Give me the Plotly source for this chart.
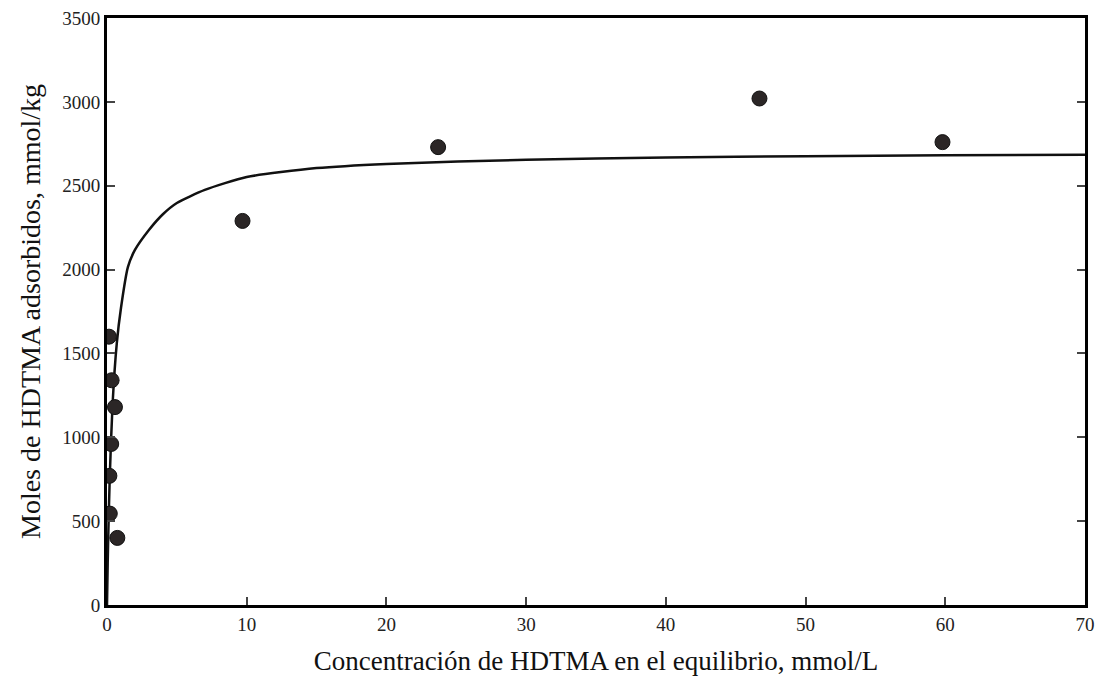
import plotly.graph_objects as go

# Measured adsorption points: equilibrium concentration (mmol/L) vs adsorbed amount (mmol/kg)
conc_points = [0.14, 0.33, 0.57, 0.30, 0.17, 0.20, 0.74, 9.7, 23.7, 46.7, 59.8]
ads_points = [1600, 1340, 1180, 960, 770, 545, 400, 2290, 2730, 3020, 2760]

# Isotherm curve read along its path
conc_curve = [0, 0.05, 0.1, 0.2, 0.4, 0.7, 1, 1.5, 2, 3, 4, 5, 7, 10, 15, 20, 30, 40, 50, 60, 70]
ads_curve = [0, 250, 450, 770, 1200, 1560, 1771, 2016, 2117, 2236, 2330, 2397, 2475,
             2552, 2605, 2630, 2655, 2668, 2676, 2681, 2685]

x_ticks = [0, 10, 20, 30, 40, 50, 60, 70]
y_ticks = [0, 500, 1000, 1500, 2000, 2500, 3000, 3500]

serif = "Liberation Serif, Times New Roman, serif"

fig = go.Figure()
fig.add_trace(go.Scatter(
    x=conc_curve, y=ads_curve, mode="lines",
    line=dict(color="#111111", width=2.5, shape="spline", smoothing=0.6),
    showlegend=False, hoverinfo="skip",
))
fig.add_trace(go.Scatter(
    x=conc_points, y=ads_points, mode="markers",
    marker=dict(color="#2b2626", size=15, line=dict(color="#111111", width=1)),
    showlegend=False,
))

fig.update_layout(
    width=1096, height=683,
    margin=dict(l=107, r=11, t=18, b=78),
    paper_bgcolor="white", plot_bgcolor="white",
    font=dict(family=serif, color="#222222"),
    xaxis=dict(
        range=[0, 70], tickvals=x_ticks, ticks="inside", ticklen=8, tickwidth=1.5,
        tickcolor="#444444", showline=True, linecolor="#000000", linewidth=3,
        mirror=True, showgrid=False, zeroline=False, automargin=False,
        tickfont=dict(size=19, family=serif, color="#222222"),
        title=dict(text="Concentración de HDTMA en el equilibrio, mmol/L",
                   font=dict(size=27, family=serif, color="#111111"), standoff=18),
    ),
    yaxis=dict(
        range=[0, 3500], tickvals=y_ticks, ticks="inside", ticklen=8, tickwidth=1.5,
        tickcolor="#444444", showline=True, linecolor="#000000", linewidth=3,
        mirror="ticks", showgrid=False, zeroline=False, automargin=False,
        tickfont=dict(size=19, family=serif, color="#222222"),
        title=dict(text="Moles de HDTMA adsorbidos, mmol/kg",
                   font=dict(size=28, family=serif, color="#111111"), standoff=14),
    ),
)

fig.write_html("out.html")
